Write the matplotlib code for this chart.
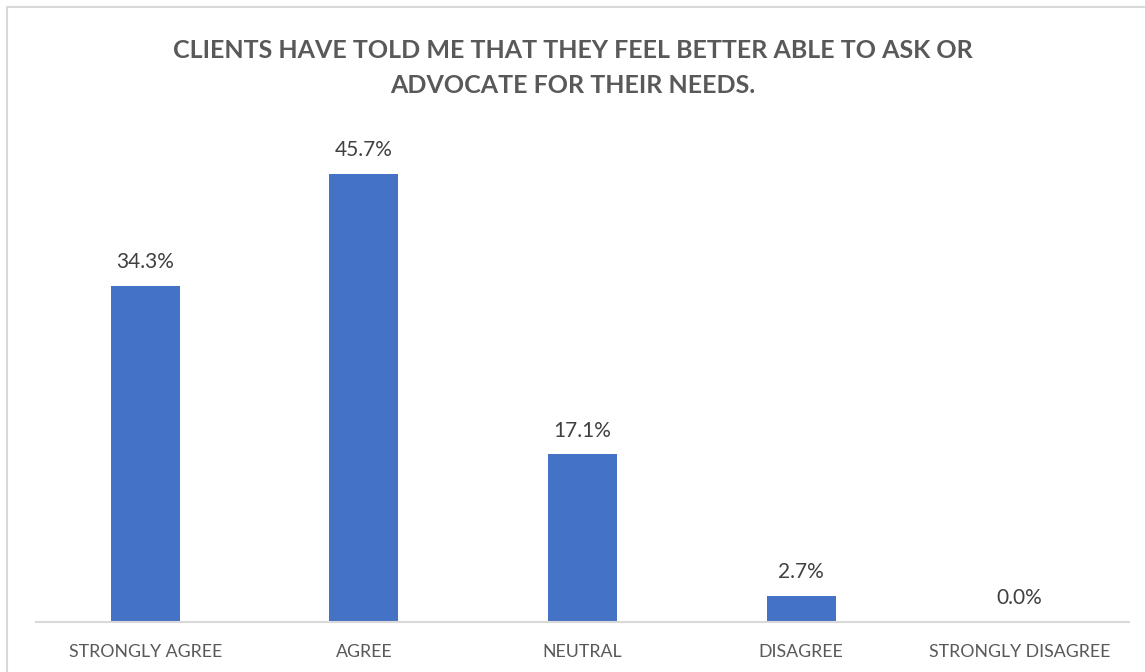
import matplotlib
matplotlib.use("Agg")
import matplotlib.pyplot as plt
from matplotlib.patches import Rectangle

categories = ["STRONGLY AGREE", "AGREE", "NEUTRAL", "DISAGREE", "STRONGLY DISAGREE"]
percentages = [34.3, 45.7, 17.1, 2.7, 0.0]
title_text = "CLIENTS HAVE TOLD ME THAT THEY FEEL BETTER ABLE TO ASK OR\nADVOCATE FOR THEIR NEEDS."

plt.rcParams["font.family"] = ["Lato", "DejaVu Sans"]

W, H = 1145, 672
fig = plt.figure(figsize=(W / 100, H / 100), dpi=100)
fig.patch.set_facecolor("white")

# chart-area frame
fig.add_artist(Rectangle((7 / W, -0.05), 1.2, 1 - 7 / H + 0.05, transform=fig.transFigure,
                         fill=False, edgecolor="#d9d9d9", linewidth=1.5))

left, right = 36 / W, 1129 / W
bottom, top = (H - 622) / H, (H - 132) / H
ax = fig.add_axes([left, bottom, right - left, top - bottom])

x = list(range(len(categories)))
ax.bar(x, percentages, width=0.315, color="#4472C4", zorder=2)
ax.set_xlim(-0.5, len(categories) - 0.5)
ax.set_ylim(0, 50)

for xi, v in zip(x, percentages):
    ax.annotate(f"{v:.1f}%", (xi, v), xytext=(0, 10), textcoords="offset points",
                ha="center", va="bottom", fontsize=15, color="#404040")

for side in ["top", "right", "left"]:
    ax.spines[side].set_visible(False)
ax.spines["bottom"].set_color("#d9d9d9")
ax.spines["bottom"].set_linewidth(1.5)
ax.set_yticks([])
ax.set_xticks(x)
ax.set_xticklabels(categories, fontsize=12.8, color="#595959")
ax.tick_params(axis="x", length=0, pad=16)

fig.text(0.5, 1 - 68 / H, title_text, ha="center", va="center", fontsize=18,
         fontweight="bold", color="#595959", linespacing=1.6)

fig.savefig("out.png", dpi=100)
